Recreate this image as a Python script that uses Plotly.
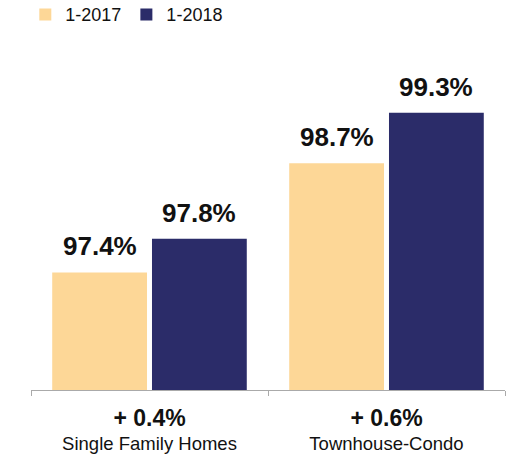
import plotly.graph_objects as go

categories = ["Single Family Homes", "Townhouse-Condo"]
series_names = ["1-2017", "1-2018"]
values_2017 = [97.4, 98.7]
values_2018 = [97.8, 99.3]
change_labels = ["+ 0.4%", "+ 0.6%"]

colors = ["#FDD797", "#2B2C69"]
BARGAP = 0.158
BARGROUPGAP = 0.05
FONT = "Liberation Sans, Arial, Helvetica, sans-serif"

fig = go.Figure()
for name, vals, col in zip(series_names, [values_2017, values_2018], colors):
    fig.add_trace(go.Bar(x=categories, y=vals, name=name, marker_color=col,
                         marker_line_width=0))

ticktext = [f"<span style='font-size:23px'><b>{c}</b></span><br>{cat}"
            for c, cat in zip(change_labels, categories)]

# value labels above bars
slot = (1 - BARGAP) / 2
for ti, vals in enumerate([values_2017, values_2018]):
    off = -slot / 2 + ti * slot
    for ci, v in enumerate(vals):
        fig.add_annotation(x=ci + off, y=v, xref="x", yref="y",
                           text=f"<b>{v:.1f}%</b>", showarrow=False,
                           yanchor="bottom", yshift=9,
                           font=dict(size=26, color="#111111", family=FONT))

fig.update_layout(
    width=510, height=456,
    margin=dict(l=31, r=5, t=54, b=66, autoexpand=False),
    paper_bgcolor="white", plot_bgcolor="white",
    barmode="group", bargap=BARGAP, bargroupgap=BARGROUPGAP,
    font=dict(family=FONT, color="#111111", size=18),
    showlegend=True,
    legend=dict(orientation="h", x=-0.012, xanchor="left", y=1.172,
                yanchor="top", font=dict(size=18, family=FONT), itemclick=False,
                bgcolor="rgba(0,0,0,0)"),
    xaxis=dict(type="category", tickvals=categories, ticktext=ticktext,
               showline=True, linecolor="#AAAAAA", linewidth=1,
               ticks="outside", tickson="boundaries", ticklen=5, tickcolor="#AAAAAA",
               ticklabelstandoff=13, automargin=False,
               showgrid=False, tickfont=dict(size=18.5, family=FONT, color="#111111")),
    yaxis=dict(range=[96, 100], visible=False, showgrid=False),
)

fig.write_html("out.html", config={"displayModeBar": False},
               post_script="document.body.style.margin='0';")
